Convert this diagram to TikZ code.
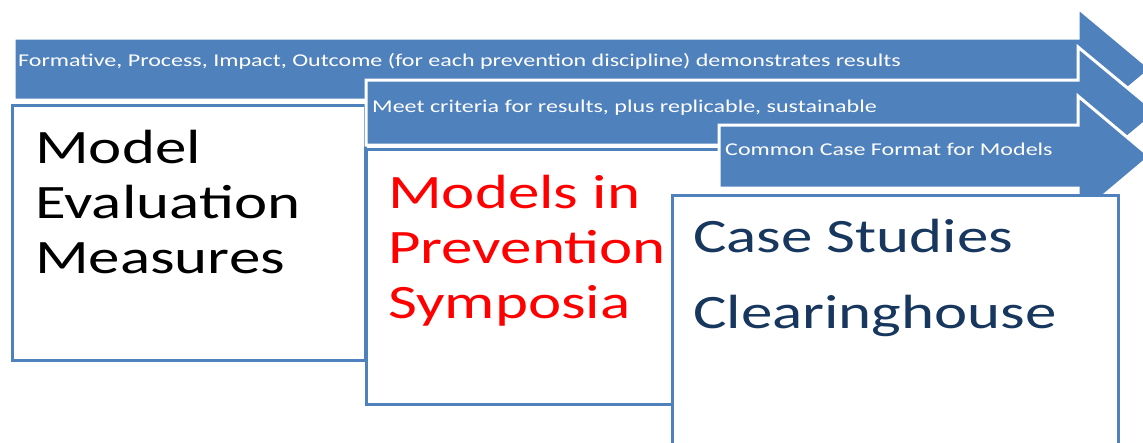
\documentclass[tikz,border=0pt]{standalone}
\usepackage{fontspec}
\setmainfont{Carlito}
\newfontfamily\smallwide[FakeStretch=1.335]{Carlito}
\newfontfamily\bigwide[FakeStretch=1.31]{Carlito}
\definecolor{ablue}{HTML}{4F81BD}
\definecolor{navy}{HTML}{17375E}
\definecolor{bred}{HTML}{FF0000}
\begin{document}
\begin{tikzpicture}[x=1pt,y=-1pt,
  arrowshape/.style={fill=ablue, draw=white, line width=3pt, line join=miter},
  boxshape/.style={draw=ablue, fill=white, line width=3pt},
  boxedge/.style={draw=ablue, line width=3pt, line join=miter},
  alabel/.style={text=white, font=\smallwide\fontsize{18}{20}\selectfont, anchor=base west, inner sep=0pt},
  btext/.style={anchor=base west, inner sep=0pt, font=\bigwide\fontsize{48}{55}\selectfont}]
\useasboundingbox (0,0) rectangle (1143,442);
\begin{scope}
\clip (0,0) rectangle (1143,442);
% arrow 1
\filldraw[arrowshape] (14,38) -- (1078,38) -- (1078,8) -- (1151,69) -- (1078,130) -- (1078,100) -- (14,100) -- cycle;
\node[alabel] (a1) at (18,66) {Formative, Process, Impact, Outcome (for each prevention discipline) demonstrates results};
% box 1
\node[boxshape, minimum width=353pt, minimum height=255pt, anchor=north west, inner sep=0pt] (b1) at (11,104) {};
\node[btext] (t1a) at (35,163) {Model};
\node[btext] (t1b) at (35,218) {Evaluation};
\node[btext] (t1c) at (35,273) {Measures};
% arrow 2
\filldraw[arrowshape] (366,80) -- (1078,80) -- (1078,47) -- (1157,112.5) -- (1078,178) -- (1078,145) -- (366,145) -- cycle;
\node[alabel] (a2) at (372,112) {Meet criteria for results, plus replicable, sustainable};
% box 2 (right edge hidden under box 3)
\node[fill=white, draw=none, minimum width=394pt, minimum height=255pt, anchor=north west, inner sep=0pt] (b2) at (366,149) {};
\draw[boxedge] (b2.north east) -- (b2.north west) -- (b2.south west) -- (b2.south east);
\node[btext, text=bred] (t2a) at (388,208) {Models in};
\node[btext, text=bred] (t2b) at (388,263) {Prevention};
\node[btext, text=bred] (t2c) at (388,318) {Symposia};
% arrow 3
\filldraw[arrowshape] (719,125) -- (1078,125) -- (1078,96) -- (1150,156.5) -- (1078,217) -- (1078,188) -- (719,188) -- cycle;
\node[alabel] (a3) at (725,155) {Common Case Format for Models};
% box 3
\node[boxshape, minimum width=446pt, minimum height=270pt, anchor=north west, inner sep=0pt] (b3) at (671,194) {};
\node[btext, text=navy] (t3a) at (693,252) {Case Studies};
\node[btext, text=navy] (t3b) at (693,328) {Clearinghouse};
\end{scope}
\end{tikzpicture}
\end{document}
